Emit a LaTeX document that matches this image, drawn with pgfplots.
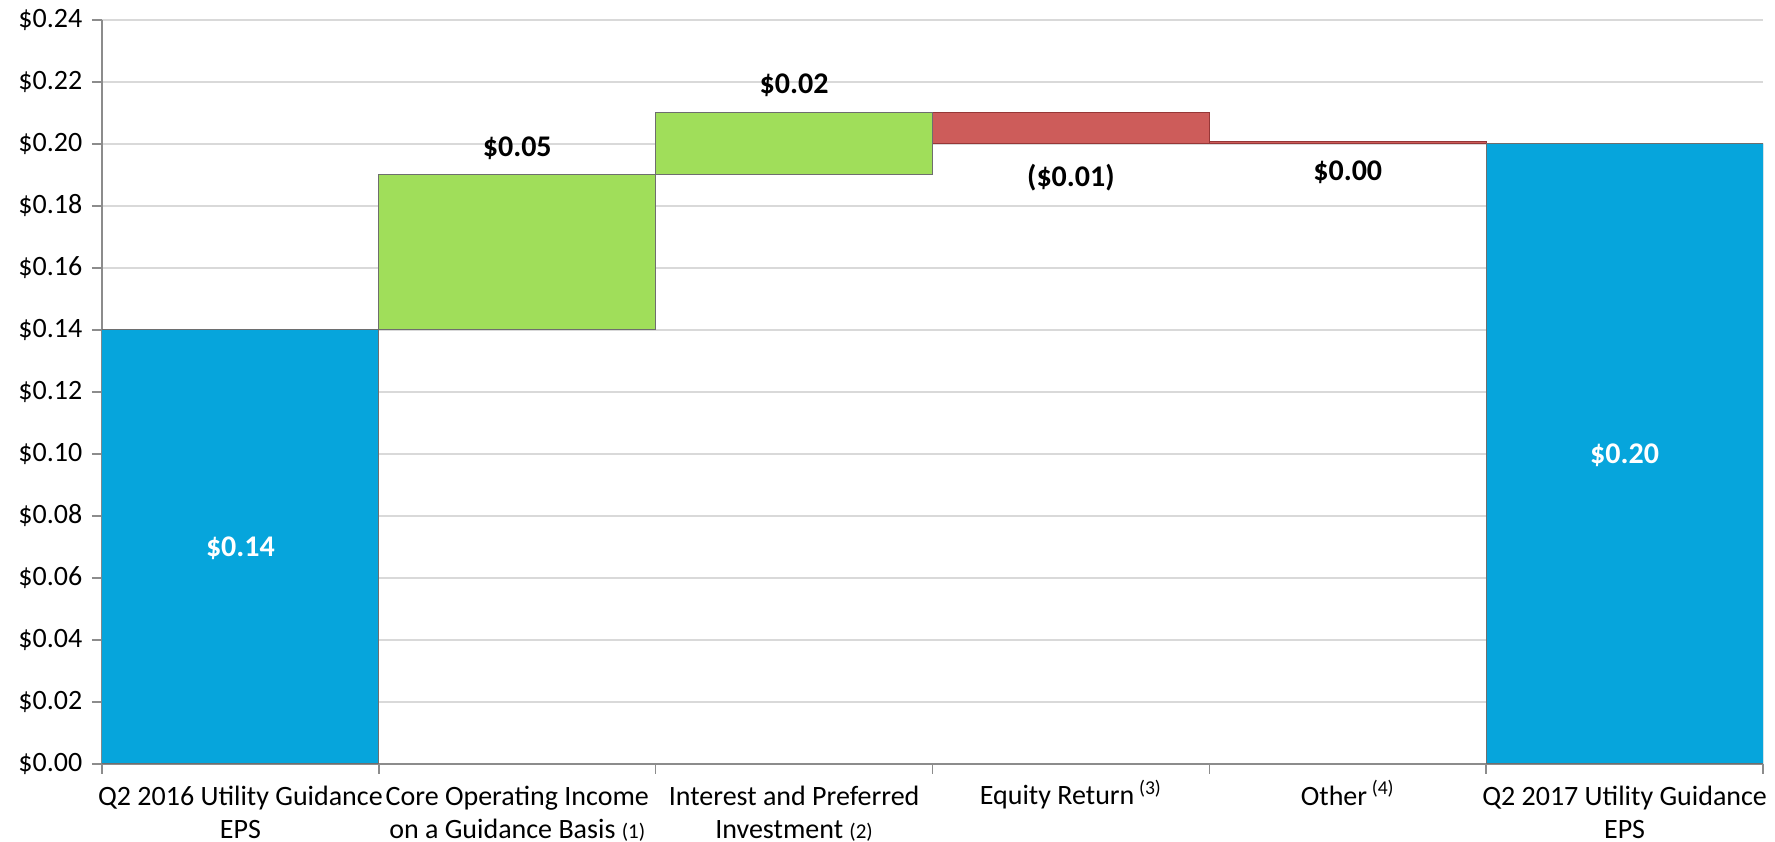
\documentclass[border=0pt]{standalone}
\usepackage{pgfplots}
\pgfplotsset{compat=1.18}
\usepackage{fontspec}
\setmainfont{Carlito}
\definecolor{gridc}{RGB}{217,217,217}
\definecolor{axc}{RGB}{140,140,140}
\definecolor{cblue}{RGB}{6,165,220}
\definecolor{cgreen}{RGB}{160,222,90}
\definecolor{cred}{RGB}{205,92,90}
\definecolor{cedge}{RGB}{110,110,110}
\definecolor{credge}{RGB}{150,55,55}
\begin{document}
\fontsize{14}{16.5}\selectfont
\begin{tikzpicture}
\begin{axis}[
  scale only axis, width=830.5pt, height=372pt,
  xmin=0, xmax=6, ymin=0, ymax=0.24,
  ybar stacked, bar width=1,
  axis lines*=left,
  axis line style={axc, line width=0.8pt},
  ymajorgrids, grid style={gridc, line width=0.8pt},
  ytick={0,0.02,0.04,0.06,0.08,0.10,0.12,0.14,0.16,0.18,0.20,0.22,0.24},
  yticklabels={\$0.00,\$0.02,\$0.04,\$0.06,\$0.08,\$0.10,\$0.12,\$0.14,\$0.16,\$0.18,\$0.20,\$0.22,\$0.24},
  xtick={0,1,2,3,4,5,6},
  x tick label as interval,
  xticklabels={{Q2 2016 Utility Guidance\\EPS},
               {Core Operating Income\\on a Guidance Basis {\fontsize{10.5}{12}\selectfont(1)}},
               {Interest and Preferred\\Investment {\fontsize{10.5}{12}\selectfont(2)}},
               {Equity Return\,\smash{\textsuperscript{(3)}}},
               {Other\,\smash{\textsuperscript{(4)}}},
               {Q2 2017 Utility Guidance\\EPS}},
  xticklabel style={align=center, font=\fontsize{14}{16.5}\selectfont, yshift=-1pt},
  yticklabel style={font=\fontsize{14}{16.5}\selectfont},
  tick align=outside, major tick length=5pt,
  tick style={axc, line width=0.8pt},
  every axis plot/.append style={line width=0.5pt},
]
% invisible base of each floating bar
\addplot[draw=none, fill=none] coordinates {(0.5,0) (1.5,0.14) (2.5,0.19) (3.5,0.20) (4.5,0.20) (5.5,0)};
% EPS totals
\addplot[fill=cblue, draw=cedge] coordinates {(0.5,0.14) (1.5,0) (2.5,0) (3.5,0) (4.5,0) (5.5,0.20)};
% increases
\addplot[fill=cgreen, draw=cedge] coordinates {(0.5,0) (1.5,0.05) (2.5,0.02) (3.5,0) (4.5,0) (5.5,0)};
% decreases
\addplot[fill=cred, draw=credge] coordinates {(0.5,0) (1.5,0) (2.5,0) (3.5,0.01) (4.5,0.0008) (5.5,0)};
\coordinate (L1) at (axis cs:0.5,0.0695);
\coordinate (L6) at (axis cs:5.5,0.0995);
\coordinate (L2) at (axis cs:1.5,0.1985);
\coordinate (L3) at (axis cs:2.5,0.2188);
\coordinate (L4) at (axis cs:3.5,0.1890);
\coordinate (L5) at (axis cs:4.5,0.1910);
\end{axis}
\begin{scope}[every node/.style={font=\bfseries\fontsize{15}{18}\selectfont}]
\node[text=white] at (L1) {\$0.14};
\node[text=white] at (L6) {\$0.20};
\node at (L2) {\$0.05};
\node at (L3) {\$0.02};
\node at (L4) {(\$0.01)};
\node at (L5) {\$0.00};
\end{scope}
\pgfresetboundingbox
\path ([shift={(-51pt,-39pt)}]current axis.south west) rectangle ([shift={(6pt,10pt)}]current axis.north east);
\end{tikzpicture}
\end{document}
